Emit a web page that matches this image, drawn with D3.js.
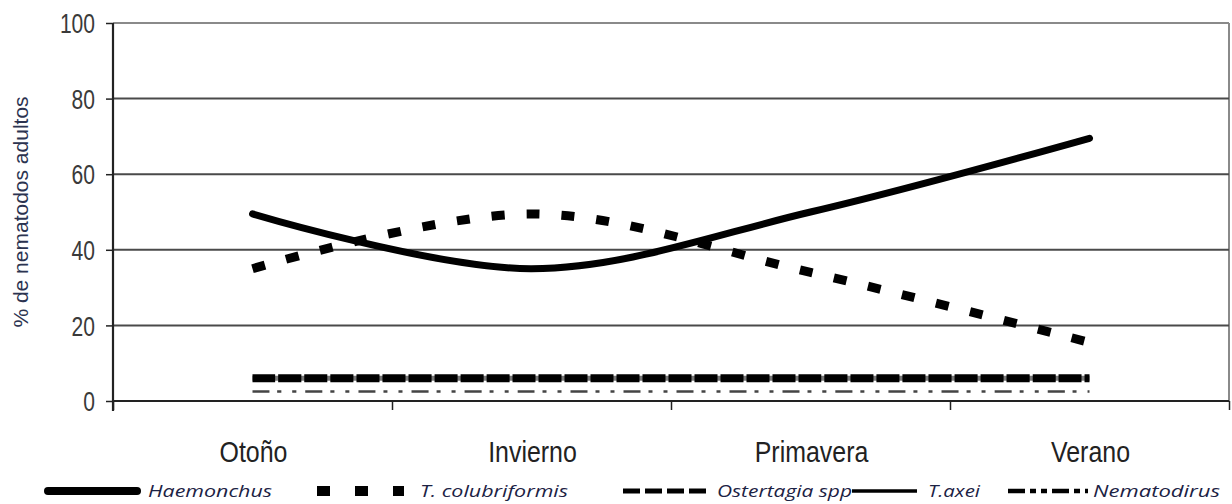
<!DOCTYPE html>
<html>
<head>
<meta charset="utf-8">
<script src="https://cdn.jsdelivr.net/npm/d3@7"></script>
<style>
  body { margin: 0; background: #fff; }
  svg { display: block; }
</style>
</head>
<body>
<svg id="chart" width="1232" height="504"></svg>
<script>
const categories = ["Otoño", "Invierno", "Primavera", "Verano"];
const yTicks = [0, 20, 40, 60, 80, 100];

const haemonchus = [49.5, 35, 50, 69.5];
const colubriformis = [35, 49.5, 34, 15.5];
const ostertagia = [6, 6, 6, 6];
const axei = [6, 6, 6, 6];
const nematodirus = [2.5, 2.5, 2.5, 2.5];

const legendNames = ["Haemonchus", "T. colubriformis", "Ostertagia spp", "T.axei", "Nematodirus"];

const svg = d3.select("#chart");
const plot = { left: 113, right: 1229, top: 23, bottom: 401 };

const x = d3.scaleBand().domain(categories).range([plot.left, plot.right]);
const xEdge = d3.scaleLinear().domain([0, categories.length]).range([plot.left, plot.right]);
const y = d3.scaleLinear().domain([0, 100]).range([plot.bottom, plot.top]);
const cx = (c) => x(c) + x.bandwidth() / 2;

// frame: top and right border
svg.append("line")
  .attr("x1", plot.left).attr("x2", plot.right).attr("y1", y(100)).attr("y2", y(100))
  .attr("stroke", "#8a8a8a").attr("stroke-width", 2);
svg.append("line")
  .attr("x1", plot.right).attr("x2", plot.right).attr("y1", y(100)).attr("y2", plot.bottom)
  .attr("stroke", "#8a8a8a").attr("stroke-width", 2);

// gridlines
svg.append("g")
  .selectAll("line")
  .data(yTicks.filter((t) => t > 0 && t < 100))
  .enter()
  .append("line")
  .attr("x1", plot.left).attr("x2", plot.right)
  .attr("y1", (d) => y(d)).attr("y2", (d) => y(d))
  .attr("stroke", "#4a4a4a")
  .attr("stroke-width", 2);

// Y axis
svg.append("g")
  .attr("transform", `translate(${plot.left},0)`)
  .call(d3.axisLeft(y).tickValues(yTicks).tickSize(7).tickPadding(12))
  .call((g) => g.select(".domain").attr("stroke", "#222").attr("stroke-width", 2.2).attr("d", `M0,${plot.top}V${plot.bottom + 10}`))
  .call((g) => g.selectAll(".tick line").attr("stroke", "#222").attr("stroke-width", 1.5))
  .call((g) =>
    g.selectAll("text")
      .attr("font-family", "Liberation Sans, Arial, sans-serif")
      .attr("font-size", 27)
      .attr("fill", "#3a3a3a")
      .attr("dy", "0.36em")
      .attr("transform", "scale(0.78,1)")
      .attr("x", -18 / 0.78)
  );

// X axis (tick marks at category edges)
svg.append("g")
  .attr("transform", `translate(0,${plot.bottom})`)
  .call(d3.axisBottom(xEdge).tickValues(d3.range(categories.length + 1)).tickSize(9).tickFormat(""))
  .call((g) => g.select(".domain").attr("stroke", "#222").attr("stroke-width", 2.2).attr("d", `M${plot.left},0H${plot.right}`))
  .call((g) => g.selectAll(".tick line").attr("stroke", "#222").attr("stroke-width", 1.5));

// category labels
svg.append("g")
  .selectAll("text")
  .data(categories)
  .enter()
  .append("text")
  .attr("transform", (d) => `translate(${cx(d) + 1},462) scale(0.86,1)`)
  .attr("text-anchor", "middle")
  .attr("font-family", "Liberation Sans, Arial, sans-serif")
  .attr("font-size", 29)
  .attr("fill", "#222")
  .text((d) => d);

// y label
svg.append("text")
  .attr("transform", `translate(28,212) rotate(-90)`)
  .attr("text-anchor", "middle")
  .attr("font-family", "Liberation Sans, Arial, sans-serif")
  .attr("font-size", 21)
  .attr("fill", "#2b3350")
  .text("% de nematodos adultos");

// series
const line = d3.line()
  .x((d, i) => cx(categories[i]))
  .y((d) => y(d))
  .curve(d3.curveCatmullRom.alpha(0.5));

const series = [
  { name: legendNames[4], values: nematodirus, width: 2.5, dash: "17 8 4 11 4 9", color: "#444", cap: "butt" },
  { name: legendNames[3], values: axei, width: 5, dash: null, color: "#777", cap: "butt" },
  { name: legendNames[2], values: ostertagia, width: 8, dash: "23 3", color: "#000", cap: "butt" },
  { name: legendNames[1], values: colubriformis, width: 9, dash: "13 22", color: "#000", cap: "butt" },
  { name: legendNames[0], values: haemonchus, width: 7, dash: null, color: "#000", cap: "round" },
];

svg.append("g")
  .selectAll("path")
  .data(series)
  .enter()
  .append("path")
  .attr("d", (d) => line(d.values))
  .attr("fill", "none")
  .attr("stroke", (d) => d.color)
  .attr("stroke-width", (d) => d.width)
  .attr("stroke-dasharray", (d) => d.dash)
  .attr("stroke-linecap", (d) => d.cap);

// legend
const legendItems = [
  { name: legendNames[0], x1: 48, x2: 137, tx: 148, tw: 124, width: 8, dash: null, cap: "round" },
  { name: legendNames[1], x1: 317, x2: 404, tx: 420, tw: 148, width: 10, dash: "13 25", cap: "butt" },
  { name: legendNames[2], x1: 623, x2: 706, tx: 717, tw: 135, width: 5, dash: "17 5", cap: "butt" },
  { name: legendNames[3], x1: 852, x2: 917, tx: 928, tw: 52, width: 3.5, dash: null, cap: "butt" },
  { name: legendNames[4], x1: 1008, x2: 1088, tx: 1093, tw: 127, width: 4.5, dash: "17 5 6 5 6 5", cap: "butt" },
];

const legend = svg.append("g").attr("transform", "translate(0,491)");
legend.selectAll("line")
  .data(legendItems)
  .enter()
  .append("line")
  .attr("x1", (d) => d.x1).attr("x2", (d) => d.x2)
  .attr("y1", 0).attr("y2", 0)
  .attr("stroke", "#000")
  .attr("stroke-width", (d) => d.width)
  .attr("stroke-dasharray", (d) => d.dash)
  .attr("stroke-linecap", (d) => d.cap);

legend.selectAll("text")
  .data(legendItems)
  .enter()
  .append("text")
  .attr("x", (d) => d.tx)
  .attr("y", 6)
  .attr("textLength", (d) => d.tw)
  .attr("lengthAdjust", "spacingAndGlyphs")
  .attr("font-family", "Open Sans, Noto Sans, sans-serif")
  .attr("font-style", "italic")
  .attr("font-size", 17)
  .attr("fill", "#1c2244")
  .text((d) => d.name);
</script>
</body>
</html>
